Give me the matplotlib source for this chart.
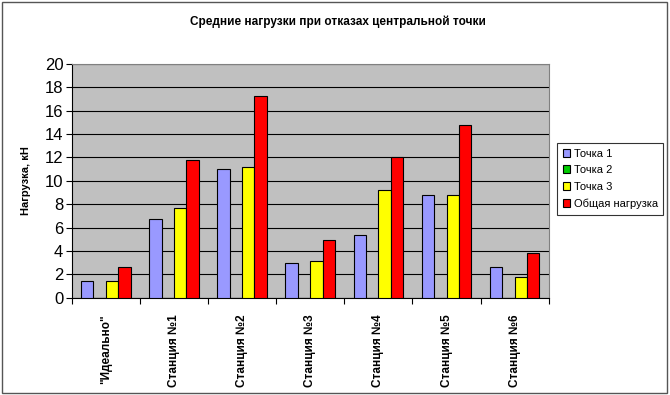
import matplotlib
matplotlib.use("Agg")
import matplotlib.pyplot as plt
from matplotlib.patches import Rectangle
from matplotlib.ticker import FixedLocator
import numpy as np

plt.rcParams['font.family'] = ['Liberation Sans', 'DejaVu Sans']

categories = ['"Идеально"', 'Станция №1', 'Станция №2', 'Станция №3',
              'Станция №4', 'Станция №5', 'Станция №6']
series_names = ['Точка 1', 'Точка 2', 'Точка 3', 'Общая нагрузка']
tochka1 = [1.4, 6.7, 11.0, 3.0, 5.4, 8.8, 2.6]
tochka2 = [0, 0, 0, 0, 0, 0, 0]
tochka3 = [1.4, 7.7, 11.2, 3.1, 9.2, 8.8, 1.75]
obshaya = [2.6, 11.8, 17.25, 4.9, 12.05, 14.8, 3.85]
colors = ['#9999FF', '#00CC00', '#FFFF00', '#FF0000']
yticks = [0, 2, 4, 6, 8, 10, 12, 14, 16, 18, 20]

fig = plt.figure(figsize=(6.7, 3.95), dpi=100)
fig.patches.append(Rectangle((0.003, 0.005), 0.992, 0.99, transform=fig.transFigure,
                             fill=False, edgecolor='#555555', linewidth=1.0))
ax = fig.add_axes([0.107, 0.2463, 0.712, 0.5917])
ax.set_facecolor('#C0C0C0')

x = np.arange(len(categories))
w = 1 / 5.5
data = [tochka1, tochka2, tochka3, obshaya]
for i, (vals, name, c) in enumerate(zip(data, series_names, colors)):
    ax.bar(x + (i - 1.5) * w, vals, width=w, color=c, edgecolor='black',
           linewidth=0.8, label=name, zorder=3)

ax.set_xlim(-0.5, len(categories) - 0.5)
ax.set_ylim(0, 20)
ax.set_yticks(yticks)
ax.set_yticklabels([str(t) for t in yticks], fontsize=12)
ax.yaxis.grid(True, color='black', linewidth=0.8, zorder=1)
ax.set_axisbelow(True)

ax.set_xticks(x)
ax.set_xticklabels(categories, rotation=90, fontsize=8.5, fontweight='bold', va='top')
ax.tick_params(axis='x', which='major', length=0, pad=12)
ax.xaxis.set_minor_locator(FixedLocator(np.arange(-0.5, len(categories), 1.0)))
ax.tick_params(axis='x', which='minor', length=4, width=0.8, direction='out')
ax.tick_params(axis='y', length=4, width=0.8, direction='out', pad=2)

for s in ['top', 'right']:
    ax.spines[s].set_color('#808080')
    ax.spines[s].set_linewidth(0.8)
for s in ['left', 'bottom']:
    ax.spines[s].set_color('black')
    ax.spines[s].set_linewidth(0.8)

ax.set_ylabel('Нагрузка, кН', fontsize=8, fontweight='bold', labelpad=10)

fig.text(0.505, 0.945, 'Средние нагрузки при отказах центральной точки',
         ha='center', va='center', fontsize=8.5, fontweight='bold')

leg = ax.legend(loc='upper left', bbox_to_anchor=(0.8315, 0.638), bbox_transform=fig.transFigure,
                fontsize=8, frameon=True, fancybox=False, edgecolor='black',
                handlelength=0.7, handleheight=0.7, handletextpad=0.3,
                borderpad=0.5, labelspacing=0.6, borderaxespad=0)
leg.get_frame().set_linewidth(0.8)

fig.savefig('out.png', dpi=100)
